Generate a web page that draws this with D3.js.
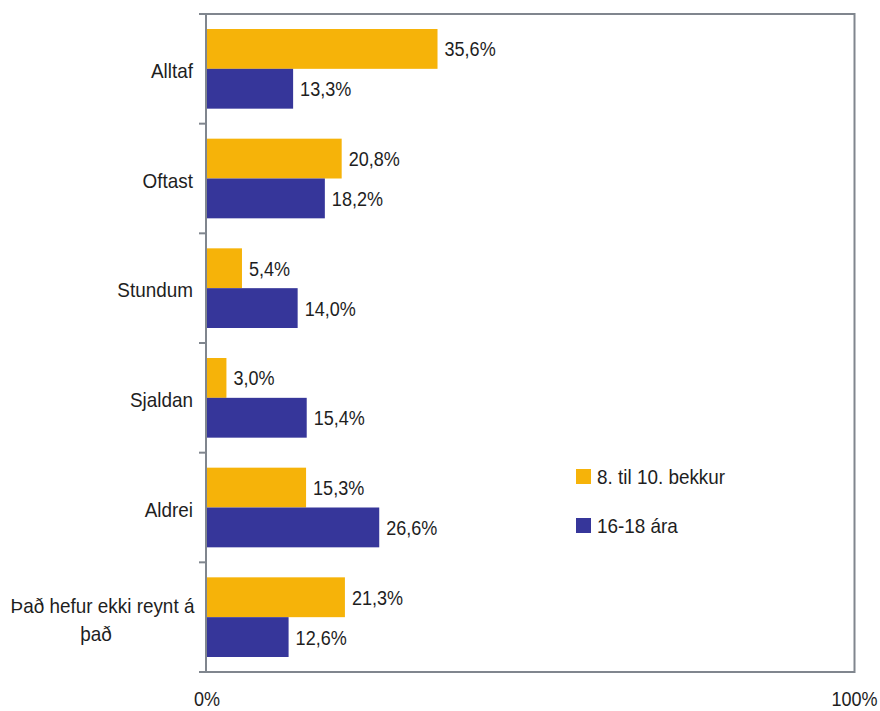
<!DOCTYPE html>
<html><head><meta charset="utf-8">
<script src="https://cdn.jsdelivr.net/npm/d3@7"></script>
<style>
body{margin:0;background:#fff;}
text{font-family:"Liberation Sans",Arial,sans-serif;fill:#1e1e1e;}
</style></head>
<body><svg id="c" width="880" height="711"></svg>
<script>
const categories = ["Alltaf","Oftast","Stundum","Sjaldan","Aldrei","Það hefur ekki reynt á það"];
const categoryLines = [["Alltaf"],["Oftast"],["Stundum"],["Sjaldan"],["Aldrei"],["Það hefur ekki reynt á","það"]];
const seriesNames = ["8. til 10. bekkur","16-18 ára"];
const grade8to10 = [35.6,20.8,5.4,3.0,15.3,21.3];
const age16to18 = [13.3,18.2,14.0,15.4,26.6,12.6];
const xTicks = [0,100];
const colors = ["#F6B309","#36369A"];

const svg = d3.select("#c");
const L=206,R=854.5,T=14,B=672;
const x = d3.scaleLinear().domain([0,100]).range([L+1,R]);
const y = d3.scaleBand().domain(categories).range([T,B]).paddingInner(0).paddingOuter(0);
const inner = d3.scaleBand().domain(seriesNames).range([15,y.bandwidth()-15]);
const fmt = v => v.toFixed(1).replace(".",",")+"%";
const series=[grade8to10,age16to18];
const FS=21;
function txt(px,py,s,anchor,sx){
  return svg.append("text").attr("transform",`translate(${px},${py}) scale(${sx||0.86},1)`)
    .attr("text-anchor",anchor||"start").attr("font-size",FS).text(s);
}

// frame
const gc="#80868E";
svg.append("rect").attr("x",L).attr("y",T).attr("width",R-L).attr("height",B-T)
  .attr("fill","none").attr("stroke",gc).attr("stroke-width",2);
// left ticks
categories.forEach((c)=>{
  svg.append("line").attr("x1",199).attr("x2",L).attr("y1",y(c)).attr("y2",y(c)).attr("stroke",gc).attr("stroke-width",2);
});
svg.append("line").attr("x1",199).attr("x2",L).attr("y1",B).attr("y2",B).attr("stroke",gc).attr("stroke-width",2);

// bars
series.forEach((vals,s)=>{
  const g=svg.append("g");
  g.selectAll("rect").data(vals).join("rect")
    .attr("x",x(0)).attr("y",(d,i)=>y(categories[i])+inner(seriesNames[s]))
    .attr("width",d=>x(d)-x(0)).attr("height",inner.bandwidth()).attr("fill",colors[s]);
  vals.forEach((d,i)=>{
    txt(x(d)+7, y(categories[i])+inner(seriesNames[s])+inner.bandwidth()/2+7.5, fmt(d));
  });
});

// category labels
categoryLines.forEach((lines,i)=>{
  const cy=y(categories[i])+y.bandwidth()/2;
  if(lines.length===1){
    txt(193, cy+9, lines[0], "end", 0.9);
  } else {
    lines.forEach((ln,j)=>{
      txt(j===0?102.5:96, cy+(j===0?-4:24), ln, "middle", 0.9);
    });
  }
});

// x tick labels
xTicks.forEach(t=>{
  txt(x(t), 706, t+"%", "middle");
});

// legend
seriesNames.forEach((n,i)=>{
  const ly=469+i*49;
  svg.append("rect").attr("x",576).attr("y",ly).attr("width",15).attr("height",15).attr("fill",colors[i]);
  txt(597, ly+15, n, "start", 0.9);
});
</script></body></html>
